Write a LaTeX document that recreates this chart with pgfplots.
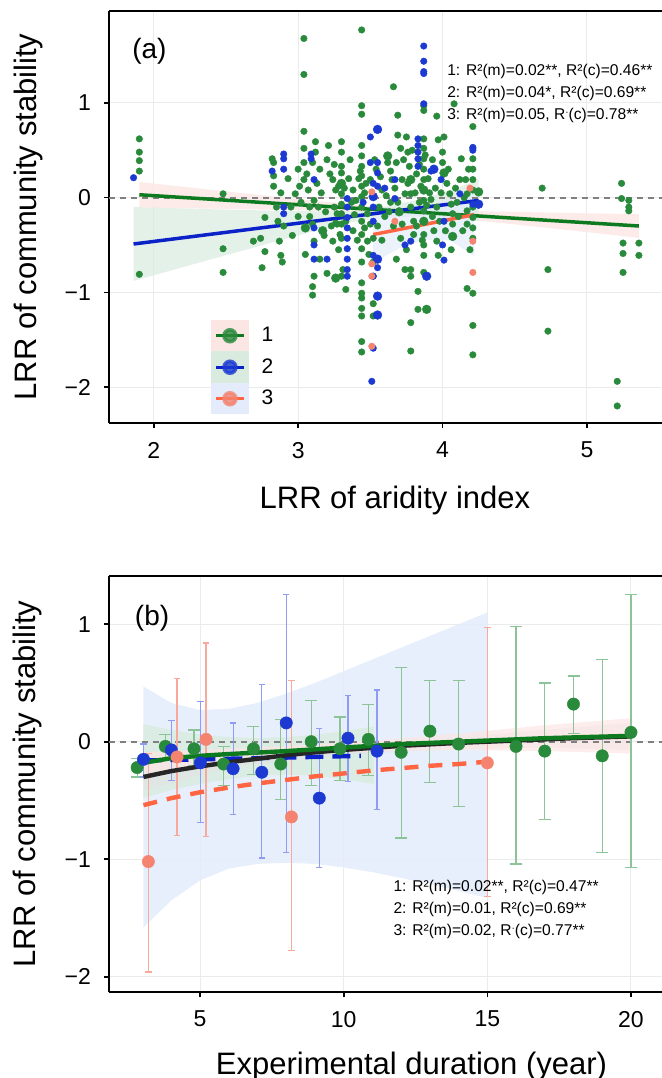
\documentclass[border=0pt]{standalone}
\usepackage{pgfplots}
\pgfplotsset{compat=1.18}
\usepackage{fontspec}
\setmainfont{Liberation Sans}

\definecolor{cG}{HTML}{2A8A3C}
\definecolor{cGl}{HTML}{0E7A20}
\definecolor{cB}{HTML}{1C3AD2}
\definecolor{cBl}{HTML}{0A22C8}
\definecolor{cO}{HTML}{F4836F}
\definecolor{cOl}{HTML}{FF6542}
\definecolor{cK}{HTML}{262626}
\definecolor{ribP}{HTML}{FCE6E4}
\definecolor{ribG}{HTML}{D8EBDE}
\definecolor{ribB}{HTML}{E4ECFB}
\definecolor{ribK}{HTML}{E2E2E6}
\definecolor{gridc}{HTML}{EBEBEB}
\definecolor{zeroc}{HTML}{808080}
\definecolor{ebG}{HTML}{8CC497}
\definecolor{ebB}{HTML}{8F9CF4}
\definecolor{ebO}{HTML}{F7AA9C}

\pgfplotsset{
  panel/.style={
    scale only axis, width=276.5pt,
    axis lines*=left, axis line style={-, line width=0.8pt},
    tick align=outside, major tick length=2.5pt,
    tick style={black, line width=0.8pt},
    grid=major, grid style={gridc, line width=0.5pt},
    tick label style={font=\fontsize{11.5}{13}\selectfont},
    label style={font=\fontsize{15.5}{18}\selectfont},
    /pgf/number format/assume math mode=true,
    xticklabel style={yshift=-3.5pt}, yticklabel style={xshift=-3pt},
    ylabel={LRR of community stability},
    ytick={-2,-1,0,1}, yticklabels={−2,−1,0,1},
    extra description/.code={\draw[line width=0.8pt] (rel axis cs:0,1) -- (rel axis cs:1,1);},
  },
  dots/.style 2 args={only marks, mark=*, mark size=#1,
    mark options={draw=#2, fill=#2, line width=0.2pt}},
  ebars/.style 2 args={error bars/.cd, y dir=both, y explicit, error mark=|,
    error bar style={draw=#1, line width=0.6pt},
    error mark options={draw=#1, line width=0.6pt, mark size=#2}},
}

\begin{document}
\begin{tikzpicture}
\path[use as bounding box] (0pt,0pt) rectangle (331pt,-539pt);

% ---------------- panel (a) ----------------
\begin{axis}[panel,
  at={(54.5pt,-5.5pt)}, anchor=north west, height=206pt,
  xmin=1.69, xmax=5.52, ymin=-2.38, ymax=1.97,
  xtick={2,3,4,5},
  xlabel={LRR of aridity index},
  xlabel style={at={(axis description cs:0.517,-0.187)}, anchor=center},
  ylabel style={at={(axis description cs:-0.1465,0.5)}, anchor=center},
  legend style={at={(axis cs:2.395,-1.288)}, anchor=north west, draw=none, fill=none,
    inner sep=0pt, row sep=0pt, font=\fontsize{10.5}{12}\selectfont,
    nodes={inner sep=0.5pt}},
  legend cell align=left,
]
% ribbons
\addplot[forget plot, draw=none, fill=ribP, fill opacity=0.8] coordinates {
(1.90,0.165)(2.3,0.099)(2.7,0.033)(3.1,-0.031)(3.5,-0.089)(3.7,-0.111)(3.9,-0.127)(4.3,-0.145)(4.7,-0.157)(5.1,-0.168)(5.36,-0.175)
(5.36,-0.425)(5.1,-0.382)(4.7,-0.315)(4.3,-0.251)(3.9,-0.193)(3.7,-0.171)(3.5,-0.155)(3.1,-0.137)(2.7,-0.125)(2.3,-0.115)(1.90,-0.105)} -- cycle;
\addplot[forget plot, draw=none, fill=ribG, fill opacity=0.7] coordinates {
(1.86,-0.10)(2.2,-0.115)(2.6,-0.13)(3.0,-0.143)(3.3,-0.144)(3.5,-0.124)(3.7,-0.067)(3.9,0.003)(4.1,0.101)(4.25,0.19)
(4.25,-0.25)(4.1,-0.219)(3.9,-0.197)(3.7,-0.205)(3.5,-0.224)(3.3,-0.282)(3.0,-0.399)(2.6,-0.566)(2.2,-0.735)(1.86,-0.88)} -- cycle;
\addplot[forget plot, draw=none, fill=ribB, fill opacity=0.7] coordinates {
(3.52,-0.09)(3.7,-0.136)(3.87,-0.125)(4.05,-0.011)(4.22,0.10)
(4.22,-0.62)(4.05,-0.45)(3.87,-0.445)(3.7,-0.536)(3.52,-0.69)} -- cycle;
\addplot[forget plot, zeroc, line width=1pt, dash pattern=on 3pt off 2.5pt] coordinates {(1.69,0)(5.52,0)};

% group 1 points
\addplot[forget plot, dots={1.65pt}{cG}] table {
x y
1.90 0.62
1.90 0.48
1.90 0.39
1.90 0.28
1.90 -0.81
2.48 0.04
2.48 -0.54
2.48 -0.79
2.69 -0.46
2.74 -0.43
2.75 -0.74
2.77 -0.57
2.77 -0.21
2.82 0.41
2.83 0.23
2.83 0.12
2.85 -0.10
2.86 -0.25
2.87 -0.46
2.88 -0.61
2.89 -0.68
2.83 0.37
2.88 0.05
2.90 -0.30
2.98 0.04
3.01 0.12
3.04 1.68
3.04 1.30
3.04 0.70
3.04 0.52
3.04 0.37
3.04 0.19
3.07 0.08
3.08 -0.10
3.10 -0.28
3.11 -0.46
3.11 -0.83
3.10 -0.94
3.10 -1.03
3.12 0.59
3.14 -0.10
3.11 -0.03
3.10 0.37
3.12 0.48
3.00 -0.20
3.15 0.30
3.18 -0.40
3.21 0.55
3.24 0.19
3.26 0.08
3.27 -0.28
3.29 -0.39
3.30 0.59
3.30 0.48
3.30 0.33
3.30 0.26
3.30 0.04
3.30 -0.07
3.30 -0.17
3.30 -0.28
3.30 -0.43
3.30 -0.83
3.31 -0.76
3.33 -0.97
3.26 -0.27
3.27 -0.17
3.24 -0.46
3.22 0.25
3.25 -0.10
3.28 0.12
3.35 0.20
3.37 -0.05
3.38 -0.35
3.40 -0.03
3.44 1.77
3.44 0.97
3.44 0.88
3.44 0.55
3.44 0.44
3.44 0.33
3.44 0.23
3.44 0.12
3.44 0.01
3.44 -0.10
3.44 -0.25
3.44 -0.39
3.44 -0.54
3.44 -0.68
3.44 -0.90
3.44 -1.01
3.44 -1.06
3.44 -1.17
3.44 -1.25
3.44 -1.52
3.44 -1.63
3.42 0.20
3.46 0.05
3.48 -0.17
3.48 -0.46
3.50 0.19
3.50 -0.28
3.52 -0.43
3.52 -0.68
3.52 -0.83
3.52 -1.12
3.52 -1.25
3.54 0.30
3.56 -0.10
3.58 0.08
3.60 -0.20
3.62 0.37
3.65 0.19
3.66 1.17
3.68 0.37
3.69 0.87
3.69 0.66
3.71 0.52
3.72 0.19
3.74 0.04
3.75 0.64
3.76 0.48
3.77 0.33
3.78 0.04
3.78 -0.10
3.80 -0.25
3.80 -0.39
3.78 -0.76
3.78 -0.83
3.78 -1.32
3.78 -1.62
3.83 -0.99
3.83 -1.18
3.87 0.97
3.87 0.92
3.87 0.62
3.87 0.52
3.87 0.41
3.87 0.30
3.87 0.19
3.87 -0.03
3.87 -0.14
3.87 -0.39
3.87 -0.50
3.87 -0.61
3.87 -0.79
3.68 -0.65
3.71 -0.43
3.74 -0.76
3.64 -0.05
3.66 -0.30
3.82 0.25
3.84 -0.05
3.85 0.12
3.90 0.20
3.92 -0.02
3.93 -0.20
3.97 0.61
3.96 0.86
4.01 0.64
4.00 0.48
4.00 0.37
4.03 0.15
4.05 0.04
4.06 -0.07
4.07 -0.17
4.07 -0.28
4.08 0.99
4.12 0.19
4.13 0.41
4.16 0.19
4.17 0.04
4.17 -0.14
4.17 -0.28
4.17 -0.96
4.21 0.75
4.21 0.52
4.21 0.41
4.21 0.30
4.21 0.19
4.21 0.08
4.21 -0.10
4.21 -0.21
4.21 -0.32
4.21 -0.43
4.21 -1.01
4.21 -1.35
4.21 -1.66
3.96 -0.46
3.97 -0.61
3.96 -0.10
3.95 0.10
4.10 -0.05
4.14 -0.35
4.69 0.10
4.73 -0.76
4.73 -1.41
5.24 0.15
5.24 -0.01
5.29 -0.03
5.29 -0.10
5.29 -0.14
5.25 -0.48
5.25 -0.59
5.25 -0.79
5.36 -0.48
5.36 -0.61
5.21 -1.94
5.21 -2.20
3.00 0.30
3.02 -0.05
3.06 0.25
3.08 -0.20
3.13 0.15
3.16 0.05
3.19 -0.15
3.20 0.40
3.23 -0.30
3.25 0.35
3.28 -0.55
3.32 0.10
3.33 -0.25
3.36 0.40
3.38 0.08
3.39 -0.18
3.41 -0.45
3.43 0.28
3.46 -0.32
3.47 0.15
3.49 -0.60
3.53 0.40
3.55 -0.30
3.57 0.22
3.58 -0.45
3.61 0.02
3.63 -0.15
3.64 0.28
3.67 0.10
3.69 -0.05
3.72 -0.28
3.73 0.40
3.75 -0.55
3.76 0.15
3.79 0.50
3.81 0.05
3.82 -0.30
3.84 0.35
3.86 -0.45
3.88 0.45
3.89 -0.08
3.91 0.05
3.93 0.40
3.94 -0.35
3.98 -0.25
3.99 0.05
4.02 -0.35
4.04 0.30
4.06 -0.55
4.09 0.10
4.11 -0.20
4.15 0.00
4.18 0.30
4.19 -0.55
2.95 -0.10
2.93 0.20
2.96 -0.40
3.05 -0.60
3.15 -0.65
3.20 -0.80
};
\addplot[forget plot, dots={2.2pt}{cG}] table {
x y
3.89 -1.18
4.07 -0.41
4.25 0.06
3.30 0.15
3.26 -0.85
3.17 -0.35
3.05 -0.32
3.78 0.19
3.87 0.08
3.70 -0.15
3.62 0.44
4.01 0.26
3.87 -0.25
};
% group 2 points
\addplot[forget plot, dots={1.65pt}{cB}] table {
x y
1.86 0.21
2.82 0.28
2.90 0.46
2.90 0.41
2.90 0.30
2.90 -0.10
2.90 -0.17
3.09 0.46
3.09 0.41
3.11 0.19
3.11 -0.32
3.11 -0.50
3.11 -0.65
3.20 -0.65
3.34 -0.01
3.34 -0.10
3.34 -0.21
3.34 -0.32
3.34 -0.43
3.34 -0.54
3.34 -0.65
3.34 -0.76
3.34 -0.83
3.50 0.64
3.50 0.37
3.52 0.15
3.52 -0.10
3.52 -0.25
3.52 -0.61
3.52 -0.83
3.52 -1.59
3.51 -1.94
3.55 -0.74
3.55 0.37
3.55 0.26
3.55 0.12
3.67 -0.01
3.67 0.19
3.74 -0.50
3.78 -0.46
3.83 0.62
3.83 0.55
3.83 0.48
3.83 0.41
3.83 0.33
3.87 1.60
3.87 1.44
3.87 1.33
3.87 1.31
3.87 0.99
3.92 0.28
3.99 0.19
4.00 -0.50
4.01 -0.66
4.21 0.53
4.21 0.50
4.21 -0.07
4.12 0.04
4.01 -0.25
3.60 0.10
3.45 -0.05
};
\addplot[forget plot, dots={2.2pt}{cB}] table {
x y
4.25 -0.07
3.55 0.72
3.55 -0.65
3.55 -1.04
3.55 -1.24
3.89 -0.83
3.94 0.30
3.52 0.01
};
% group 3 points
\addplot[forget plot, dots={1.65pt}{cO}] table {
x y
3.51 0.06
3.51 -0.70
3.51 -0.83
3.51 -1.57
3.67 -0.25
4.21 -0.46
4.21 -0.79
4.19 0.10
};
% fitted lines
\addplot[cGl, line width=1.75pt, legend image code/.code={
  \fill[ribP] (0pt,-7pt) rectangle (17pt,7pt);
  \draw[cGl, line width=1.7pt] (1.5pt,0pt) -- (15.5pt,0pt);
  \fill[cG, opacity=0.8] (8.5pt,0pt) circle (3pt);
  \path (23pt,0pt);}] coordinates {(1.90,0.03)(5.36,-0.30)};
\addlegendentry{1}
\addplot[cBl, line width=1.75pt, legend image code/.code={
  \fill[ribG] (0pt,-7pt) rectangle (17pt,7pt);
  \draw[cBl, line width=1.7pt] (1.5pt,0pt) -- (15.5pt,0pt);
  \fill[cB, opacity=0.8] (8.5pt,0pt) circle (3pt);
  \path (23pt,0pt);}] coordinates {(1.86,-0.49)(4.25,-0.03)};
\addlegendentry{2}
\addplot[cOl, line width=1.75pt, legend image code/.code={
  \fill[ribB] (0pt,-7pt) rectangle (17pt,7pt);
  \draw[cOl, line width=1.7pt] (1.5pt,0pt) -- (15.5pt,0pt);
  \fill[cO, opacity=0.8] (8.5pt,0pt) circle (3pt);
  \path (23pt,0pt);}] coordinates {(3.52,-0.39)(4.22,-0.18)};
\addlegendentry{3}

\node[font=\fontsize{14}{16}\selectfont] at (axis cs:1.97,1.54) {(a)};
\node[anchor=west, font=\fontsize{7.8}{9}\selectfont, inner sep=0pt] at (axis cs:4.03,1.33) {1: R²(m)=0.02**, R²(c)=0.46**};
\node[anchor=west, font=\fontsize{7.8}{9}\selectfont, inner sep=0pt] at (axis cs:4.03,1.10) {2: R²(m)=0.04*, R²(c)=0.69**};
\node[anchor=west, font=\fontsize{7.8}{9}\selectfont, inner sep=0pt] at (axis cs:4.03,0.866) {3: R²(m)=0.05, R\raisebox{0.5ex}{\fontsize{5}{5}\selectfont ·}(c)=0.78**};
\end{axis}

% ---------------- panel (b) ----------------
\begin{axis}[panel,
  at={(54.5pt,-288pt)}, anchor=north west, height=208pt,
  xmin=1.83, xmax=21.08, ymin=-2.13, ymax=1.41,
  xtick={5,10,15,20},
  xlabel={Experimental duration (year)},
  xlabel style={at={(axis description cs:0.547,-0.178)}, anchor=center},
  ylabel style={at={(axis description cs:-0.1465,0.5)}, anchor=center},
]
% ribbons
\addplot[forget plot, draw=none, fill=ribB, fill opacity=0.85] coordinates {
(3.03,0.47)(4,0.33)(5,0.27)(6,0.28)(7,0.33)(8,0.41)(9,0.5)(10,0.6)(11,0.7)(12,0.8)(13,0.9)(14,1.0)(15,1.1)
(15,-1.33)(14,-1.27)(13,-1.21)(12,-1.16)(11,-1.11)(10,-1.07)(9,-1.04)(8,-1.03)(7,-1.04)(6,-1.08)(5,-1.18)(4,-1.35)(3.03,-1.58)} -- cycle;
\addplot[forget plot, draw=none, fill=ribG, fill opacity=0.8] coordinates {
(3.03,0.15)(4,0.10)(5,0.06)(6,0.04)(7,0.03)(8,0.04)(9,0.06)(10,0.09)(11.05,0.13)
(11.05,-0.36)(10,-0.32)(9,-0.29)(8,-0.28)(7,-0.29)(6,-0.32)(5,-0.36)(4,-0.41)(3.03,-0.48)} -- cycle;
\addplot[forget plot, draw=none, fill=ribK, fill opacity=0.5] coordinates {
(3.03,-0.18)(6,-0.13)(10,-0.03)(14,0.04)(17,0.10)(20,0.16)
(20,-0.07)(17,-0.05)(14,-0.06)(10,-0.11)(6,-0.22)(3.03,-0.42)} -- cycle;
\addplot[forget plot, draw=none, fill=ribP, fill opacity=0.7] coordinates {
(3.03,-0.09)(6,-0.06)(10,-0.01)(14,0.07)(17,0.14)(20,0.20)
(20,-0.10)(17,-0.08)(14,-0.07)(10,-0.09)(6,-0.16)(3.03,-0.27)} -- cycle;
\addplot[forget plot, zeroc, line width=1pt, dash pattern=on 3pt off 2.5pt] coordinates {(1.83,0)(21.08,0)};

% group 1 means with error bars
\addplot[forget plot, dots={3.1pt}{cG}, ebars={ebG}{3pt}] coordinates {
(2.81,-0.22) += (0,0.08) -= (0,0.08)
(3.79,-0.04) += (0,0.10) -= (0,0.10)
(4.79,-0.06) += (0,0.16) -= (0,0.14)
(5.82,-0.19) += (0,0.15) -= (0,0.18)
(6.86,-0.06) += (0,0.19) -= (0,0.22)
(7.81,-0.19) += (0,0.38) -= (0,0.30)
(8.87,0.00) += (0,0.35) -= (0,0.37)
(9.87,-0.06) += (0,0.27) -= (0,0.27)
(10.86,0.02) += (0,0.30) -= (0,0.31)
(12.0,-0.09) += (0,0.72) -= (0,0.73)
(13.0,0.09) += (0,0.43) -= (0,0.44)
(14.0,-0.02) += (0,0.54) -= (0,0.53)
(16.0,-0.04) += (0,1.02) -= (0,1.00)
(17.0,-0.08) += (0,0.58) -= (0,0.58)
(18.0,0.32) += (0,0.24) -= (0,0.25)
(19.0,-0.12) += (0,0.82) -= (0,0.82)
(20.0,0.08) += (0,1.17) -= (0,1.15)
};
% group 2
\addplot[forget plot, dots={3.1pt}{cB}, ebars={ebB}{1.6pt}] coordinates {
(3.03,-0.15) += (0,0.13) -= (0,0.15)
(4.0,-0.07) += (0,0.25) -= (0,0.26)
(5.01,-0.18) += (0,0.52) -= (0,0.51)
(6.15,-0.23) += (0,0.39) -= (0,0.39)
(7.15,-0.26) += (0,0.75) -= (0,0.73)
(8.0,0.16) += (0,1.09) -= (0,1.10)
(9.15,-0.48) += (0,0.59) -= (0,0.59)
(10.15,0.03) += (0,0.36) -= (0,0.37)
(11.16,-0.08) += (0,0.52) -= (0,0.50)
};
% group 3
\addplot[forget plot, dots={3.1pt}{cO}, ebars={ebO}{1.6pt}] coordinates {
(3.2,-1.02) += (0,0.92) -= (0,0.94)
(4.2,-0.13) += (0,0.67) -= (0,0.67)
(5.21,0.02) += (0,0.82) -= (0,0.83)
(8.18,-0.64) += (0,1.16) -= (0,1.14)
(15.0,-0.18) += (0,1.15) -= (0,1.14)
};
% fitted curves
\addplot[forget plot, cOl, line width=2.2pt, dash pattern=on 7pt off 5pt] coordinates {
(3.03,-0.54)(4,-0.48)(5,-0.43)(6,-0.39)(7,-0.355)(8,-0.325)(9,-0.295)(10,-0.27)(11,-0.245)(12,-0.225)(13,-0.205)(14,-0.19)(15,-0.17)};
\addplot[forget plot, cBl, line width=2.2pt, dash pattern=on 9pt off 4.5pt] coordinates {
(3.03,-0.16)(6,-0.145)(8,-0.135)(10.6,-0.12)};
\addplot[forget plot, cK, line width=2.2pt] coordinates {
(3.03,-0.30)(4,-0.25)(5,-0.21)(6,-0.175)(7,-0.145)(8,-0.115)(9,-0.09)(10,-0.07)(12,-0.035)(14,-0.01)(16,0.01)(18,0.03)(20,0.045)};
\addplot[forget plot, cGl, line width=2.2pt] coordinates {
(3.03,-0.18)(4,-0.14)(5,-0.12)(6,-0.105)(8,-0.08)(10,-0.05)(12,-0.02)(15,0.01)(17,0.03)(20,0.05)};

\node[font=\fontsize{14}{16}\selectfont] at (axis cs:3.33,1.05) {(b)};
\node[anchor=west, font=\fontsize{7.8}{9}\selectfont, inner sep=0pt] at (axis cs:11.72,-1.243) {1: R²(m)=0.02**, R²(c)=0.47**};
\node[anchor=west, font=\fontsize{7.8}{9}\selectfont, inner sep=0pt] at (axis cs:11.72,-1.43) {2: R²(m)=0.01, R²(c)=0.69**};
\node[anchor=west, font=\fontsize{7.8}{9}\selectfont, inner sep=0pt] at (axis cs:11.72,-1.617) {3: R²(m)=0.02, R\raisebox{0.5ex}{\fontsize{5}{5}\selectfont ·}(c)=0.77**};
\end{axis}
\end{tikzpicture}
\end{document}
